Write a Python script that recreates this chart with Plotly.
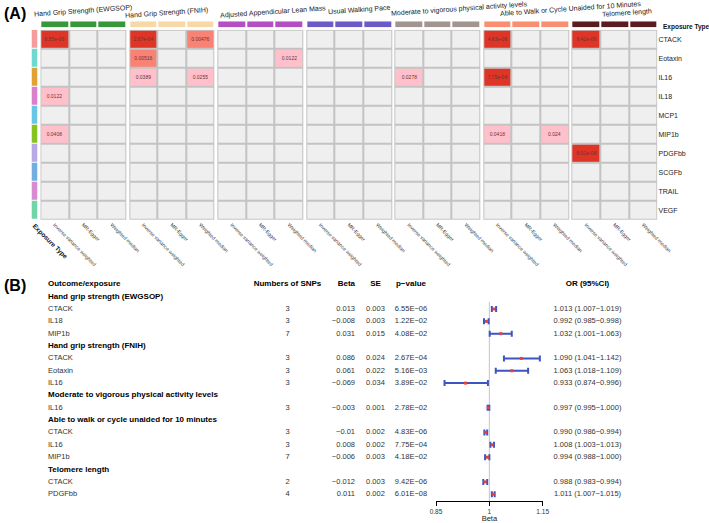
import plotly.graph_objects as go
import numpy as np

W, H = 709, 523
FONT = "Liberation Sans, Arial, Helvetica, sans-serif"

# ---------------- Panel A data ----------------
exposures = ["CTACK", "Eotaxin", "IL16", "IL18", "MCP1", "MIP1b", "PDGFbb", "SCGFb", "TRAIL", "VEGF"]
outcomes_A = ["Hand Grip Strength (EWGSOP)", "Hand Grip Strength (FNIH)",
              "Adjusted Appendicular Lean Mass", "Usual Walking Pace",
              "Moderate to vigorous physical activity levels",
              "Able to Walk or Cycle Unaided for 10 Minutes", "Telomere length"]
methods = ["Inverse variance weighted", "MR-Egger", "Weighted median"]

sig_exposure = ["CTACK", "CTACK", "CTACK", "CTACK", "CTACK", "Eotaxin", "Eotaxin", "IL16", "IL16",
                "IL16", "IL16", "IL18", "MIP1b", "MIP1b", "MIP1b", "PDGFbb"]
sig_outcome = [0, 1, 1, 5, 6, 1, 2, 1, 1, 4, 5, 0, 0, 5, 5, 6]
sig_method = [0, 0, 2, 0, 0, 0, 2, 0, 2, 0, 0, 0, 0, 0, 2, 0]
sig_label = ["6.55e-06", "2.67e-04", "0.00476", "4.83e-06", "9.42e-06", "0.00516", "0.0122",
             "0.0389", "0.0255", "0.0278", "7.75e-04", "0.0122", "0.0408", "0.0418", "0.024", "6.01e-08"]

exposure_colors = ["#F59C9C", "#6FD8CF", "#E2A233", "#D880CB", "#68C6E6", "#88C220",
                   "#B8A8E6", "#72AEE0", "#D78CD2", "#70D6A8"]
outcome_colors = ["#38963B", "#F9D8A8", "#B34EC3", "#6A5BC8", "#A29590", "#F98F70", "#5B1C1F"]

# ---------------- Panel B data ----------------
outcomes_B = ["Hand grip strength (EWGSOP)", "Hand grip strength (FNIH)",
              "Moderate to vigorous physical activity levels",
              "Able to walk or cycle unaided for 10 minutes", "Telomere length"]
b_outcome = [0, 0, 0, 1, 1, 1, 2, 3, 3, 3, 4, 4]
b_exposure = ["CTACK", "IL18", "MIP1b", "CTACK", "Eotaxin", "IL16", "IL16", "CTACK", "IL16", "MIP1b", "CTACK", "PDGFbb"]
b_nsnp = [3, 3, 7, 3, 3, 3, 3, 3, 3, 7, 2, 4]
b_beta = ["0.013", "-0.008", "0.031", "0.086", "0.061", "-0.069", "-0.003", "-0.01", "0.008", "-0.006", "-0.012", "0.011"]
b_se = ["0.003", "0.003", "0.015", "0.024", "0.022", "0.034", "0.001", "0.002", "0.002", "0.003", "0.003", "0.002"]
b_p = ["6.55E-06", "1.22E-02", "4.08E-02", "2.67E-04", "5.16E-03", "3.89E-02", "2.78E-02", "4.83E-06",
       "7.75E-04", "4.18E-02", "9.42E-06", "6.01E-08"]
b_or = [1.013, 0.992, 1.032, 1.090, 1.063, 0.933, 0.997, 0.990, 1.008, 0.994, 0.988, 1.011]
b_lo = [1.007, 0.985, 1.001, 1.041, 1.018, 0.874, 0.995, 0.986, 1.003, 0.988, 0.983, 1.007]
b_hi = [1.019, 0.998, 1.063, 1.142, 1.109, 0.996, 1.000, 0.994, 1.013, 1.000, 0.994, 1.015]
forest_ticks = [0.85, 1, 1.15]

# ---------------- geometry helpers (pixels -> fractions) ----------------
def fx(px):
    return px / W

def fy(py):
    return 1 - py / H

nG, nM, nE = len(outcomes_A), len(methods), len(exposures)
gap = 0.094
edges = []
for g in range(nG):
    s = g * (nM + gap)
    edges += [s + k for k in range(nM + 1)]
ncol = len(edges) - 1
xmax = edges[-1]

def col_of(g, k):
    return g * (nM + 1) + k

def p_class(p):
    return 3 if p < 0.001 else (2 if p < 0.01 else 1)

z = np.zeros((nE, ncol))
txt = [["" for _ in range(ncol)] for _ in range(nE)]
bg = np.ones((nE, ncol))
for g in range(nG - 1):
    z[:, col_of(g, nM)] = np.nan
    bg[:, col_of(g, nM)] = np.nan
for e, g, m, lab in zip(sig_exposure, sig_outcome, sig_method, sig_label):
    r = exposures.index(e)
    c = col_of(g, m)
    z[r, c] = p_class(float(lab))
    txt[r][c] = lab

top = np.full((1, ncol), np.nan)
for g in range(nG):
    for k in range(nM):
        top[0, col_of(g, k)] = g

fig = go.Figure()

# gray grid background
fig.add_trace(go.Heatmap(x=edges, y=exposures, z=bg, colorscale=[[0, "#C3C3C3"], [1, "#C3C3C3"]],
                         showscale=False, hoverinfo="skip", xaxis="x", yaxis="y"))
# cells
fig.add_trace(go.Heatmap(
    x=edges, y=exposures, z=z, zmin=0, zmax=3,
    colorscale=[[0, "#EFEFEF"], [1 / 3, "#FFC0CB"], [2 / 3, "#FA8274"], [1, "#DE3526"]],
    text=txt, texttemplate="%{text}", textfont=dict(size=5, color="#6b3434", family=FONT),
    xgap=2, ygap=2, showscale=False, hoverinfo="skip", xaxis="x", yaxis="y"))
# top annotation bar
fig.add_trace(go.Heatmap(
    x=edges, y=[0], z=top, zmin=0, zmax=nG - 1,
    colorscale=[[i / (nG - 1), c] for i, c in enumerate(outcome_colors)],
    xgap=2, showscale=False, hoverinfo="skip", xaxis="x", yaxis="y2"))
# left exposure strip
fig.add_trace(go.Heatmap(
    x=[0], y=exposures, z=[[i] for i in range(nE)], zmin=0, zmax=nE - 1,
    colorscale=[[i / (nE - 1), c] for i, c in enumerate(exposure_colors)],
    ygap=1, showscale=False, hoverinfo="skip", xaxis="x2", yaxis="y"))

tick_centers = [g * (nM + gap) + k + 0.5 for g in range(nG) for k in range(nM)]
tick_texts = [methods[k] for g in range(nG) for k in range(nM)]

# group titles
title_pos = [(83, 11), (166, 13), (273, 12), (359, 10), (459, 9), (570, 9.5), (627, 13)]
annotations = []
for t, (px, py) in zip(outcomes_A, title_pos):
    annotations.append(dict(text=t, x=fx(px), y=fy(py), xref="paper", yref="paper",
                            showarrow=False, textangle=-4, font=dict(size=7, color="#222", family=FONT),
                            xanchor="center", yanchor="middle"))
annotations.append(dict(text="<b>Exposure Type</b>", x=fx(661), y=fy(27.5), xref="paper", yref="paper",
                        showarrow=False, xanchor="left", yanchor="middle",
                        font=dict(size=6.5, color="#111", family=FONT)))
annotations.append(dict(text="<b>(A)</b>", x=fx(2), y=fy(13.5), xref="paper", yref="paper",
                        showarrow=False, xanchor="left", yanchor="middle",
                        font=dict(size=16, color="#000", family=FONT)))
annotations.append(dict(text="<b>(B)</b>", x=fx(2), y=fy(285), xref="paper", yref="paper",
                        showarrow=False, xanchor="left", yanchor="middle",
                        font=dict(size=16, color="#000", family=FONT)))

# ---------------- Panel B table ----------------
row_y0, row_h = 284.3, 12.35
y_bottom_px, y_top_px = 500.7, 278.0
col_x = dict(label=48, nsnp=287.5, beta=355, se=375.5, p=411, orci=587.5)

r = 1
bold_lab, bold_y = [], []
ex_lab, ex_y, ex_n, ex_b, ex_se, ex_p, ex_or = [], [], [], [], [], [], []
forest_y = []
for oi, oname in enumerate(outcomes_B):
    bold_lab.append("<b>%s</b>" % oname)
    bold_y.append(r)
    r += 1
    for i in range(len(b_outcome)):
        if b_outcome[i] != oi:
            continue
        ex_lab.append(b_exposure[i])
        ex_y.append(r)
        ex_n.append(str(b_nsnp[i]))
        ex_b.append(b_beta[i].replace("-", "\u2212"))
        ex_se.append(b_se[i])
        ex_p.append(b_p[i].replace("-", "\u2212"))
        ex_or.append("%.3f (%.3f\u2212%.3f)" % (b_or[i], b_lo[i], b_hi[i]))
        forest_y.append(r)
        r += 1

tf = dict(size=7.5, color="#333", family=FONT)
bf = dict(size=8, color="#000", family=FONT)

def text_trace(xs, ys, texts, pos, font):
    return go.Scatter(x=xs, y=ys, text=texts, mode="text", textposition=pos, textfont=font,
                      hoverinfo="skip", showlegend=False, cliponaxis=False, xaxis="x3", yaxis="y3")

hdr = [("<b>Outcome/exposure</b>", col_x["label"], "middle right"),
       ("<b>Numbers of SNPs</b>", col_x["nsnp"], "middle center"),
       ("<b>Beta</b>", col_x["beta"], "middle left"),
       ("<b>SE</b>", col_x["se"], "middle center"),
       ("<b>p\u2212value</b>", col_x["p"], "middle center"),
       ("<b>OR (95%CI)</b>", col_x["orci"], "middle center")]
for t, xx, pos in hdr:
    fig.add_trace(text_trace([xx], [0], [t], pos, bf))
fig.add_trace(text_trace([col_x["label"]] * len(bold_y), bold_y, bold_lab, "middle right", bf))
fig.add_trace(text_trace([col_x["label"]] * len(ex_y), ex_y, ex_lab, "middle right", tf))
fig.add_trace(text_trace([col_x["nsnp"]] * len(ex_y), ex_y, ex_n, "middle center", tf))
fig.add_trace(text_trace([col_x["beta"]] * len(ex_y), ex_y, ex_b, "middle left", tf))
fig.add_trace(text_trace([col_x["se"]] * len(ex_y), ex_y, ex_se, "middle center", tf))
fig.add_trace(text_trace([col_x["p"]] * len(ex_y), ex_y, ex_p, "middle center", tf))
fig.add_trace(text_trace([col_x["orci"]] * len(ex_y), ex_y, ex_or, "middle center", tf))

# forest plot
fig.add_trace(go.Scatter(
    x=b_or, y=forest_y, mode="markers",
    marker=dict(symbol="square", size=3, color="#E8433A", line=dict(width=0)),
    error_x=dict(type="data", symmetric=False,
                 array=[h - o for h, o in zip(b_hi, b_or)],
                 arrayminus=[o - l for o, l in zip(b_or, b_lo)],
                 color="#3E54C3", thickness=2, width=3),
    hoverinfo="skip", showlegend=False, cliponaxis=False, xaxis="x4", yaxis="y3"))

y_range = [(y_bottom_px - row_y0) / row_h, (y_top_px - row_y0) / row_h]
ref_top = 301.7
shapes = [dict(type="line", xref="x4", yref="y3 domain", x0=1, x1=1, y0=0,
               y1=(y_bottom_px - ref_top) / (y_bottom_px - y_top_px),
               line=dict(color="#C4C4C4", width=1), layer="below")]

fig.update_layout(
    width=W, height=H, margin=dict(l=0, r=0, t=0, b=0, autoexpand=False),
    paper_bgcolor="white", plot_bgcolor="rgba(0,0,0,0)",
    font=dict(family=FONT, color="#222"),
    showlegend=False, hovermode=False,
    annotations=annotations, shapes=shapes,
    xaxis=dict(domain=[fx(40.3), fx(657.5)], range=[0, xmax], type="linear", anchor="y",
               tickmode="array", tickvals=tick_centers, ticktext=tick_texts, tickangle=45,
               tickfont=dict(size=5, color="#333", family=FONT), ticks="", showgrid=False,
               zeroline=False, showline=False, automargin=False),
    yaxis=dict(domain=[fy(220), fy(29.7)], anchor="x", side="right", autorange="reversed",
               type="category", tickfont=dict(size=7, color="#222", family=FONT), ticks="",
               showgrid=False, zeroline=False, showline=False, automargin=False),
    yaxis2=dict(domain=[fy(27.3), fy(21.3)], anchor="x", visible=False, range=[-0.5, 0.5],
                automargin=False),
    xaxis2=dict(domain=[fx(31.5), fx(37.5)], anchor="y", range=[-0.5, 0.5], tickmode="array",
                tickvals=[0], ticktext=["<b>Exposure Type</b>"], tickangle=45, ticks="",
                tickfont=dict(size=6.5, color="#111", family=FONT), showgrid=False, zeroline=False,
                automargin=False),
    xaxis3=dict(domain=[0, 1], range=[0, W], anchor="y3", visible=False, automargin=False),
    yaxis3=dict(domain=[fy(y_bottom_px), fy(y_top_px)], range=y_range, anchor="x3", visible=False,
                automargin=False),
    xaxis4=dict(domain=[fx(436), fx(542.7)], range=[0.85, 1.15], anchor="y3",
                showline=True, linecolor="#000", linewidth=1, ticks="outside", ticklen=4,
                tickcolor="#000", tickwidth=1, tickmode="array", tickvals=forest_ticks,
                ticktext=["%g" % v for v in forest_ticks], automargin=False,
                tickfont=dict(size=6.5, color="#333", family=FONT), showgrid=False, zeroline=False,
                title=dict(text="Beta", font=dict(size=7.5, color="#222", family=FONT), standoff=2)),
)

fig.write_html("out.html", config={"displayModeBar": False, "staticPlot": True},
               post_script="document.body.style.margin='0';")
